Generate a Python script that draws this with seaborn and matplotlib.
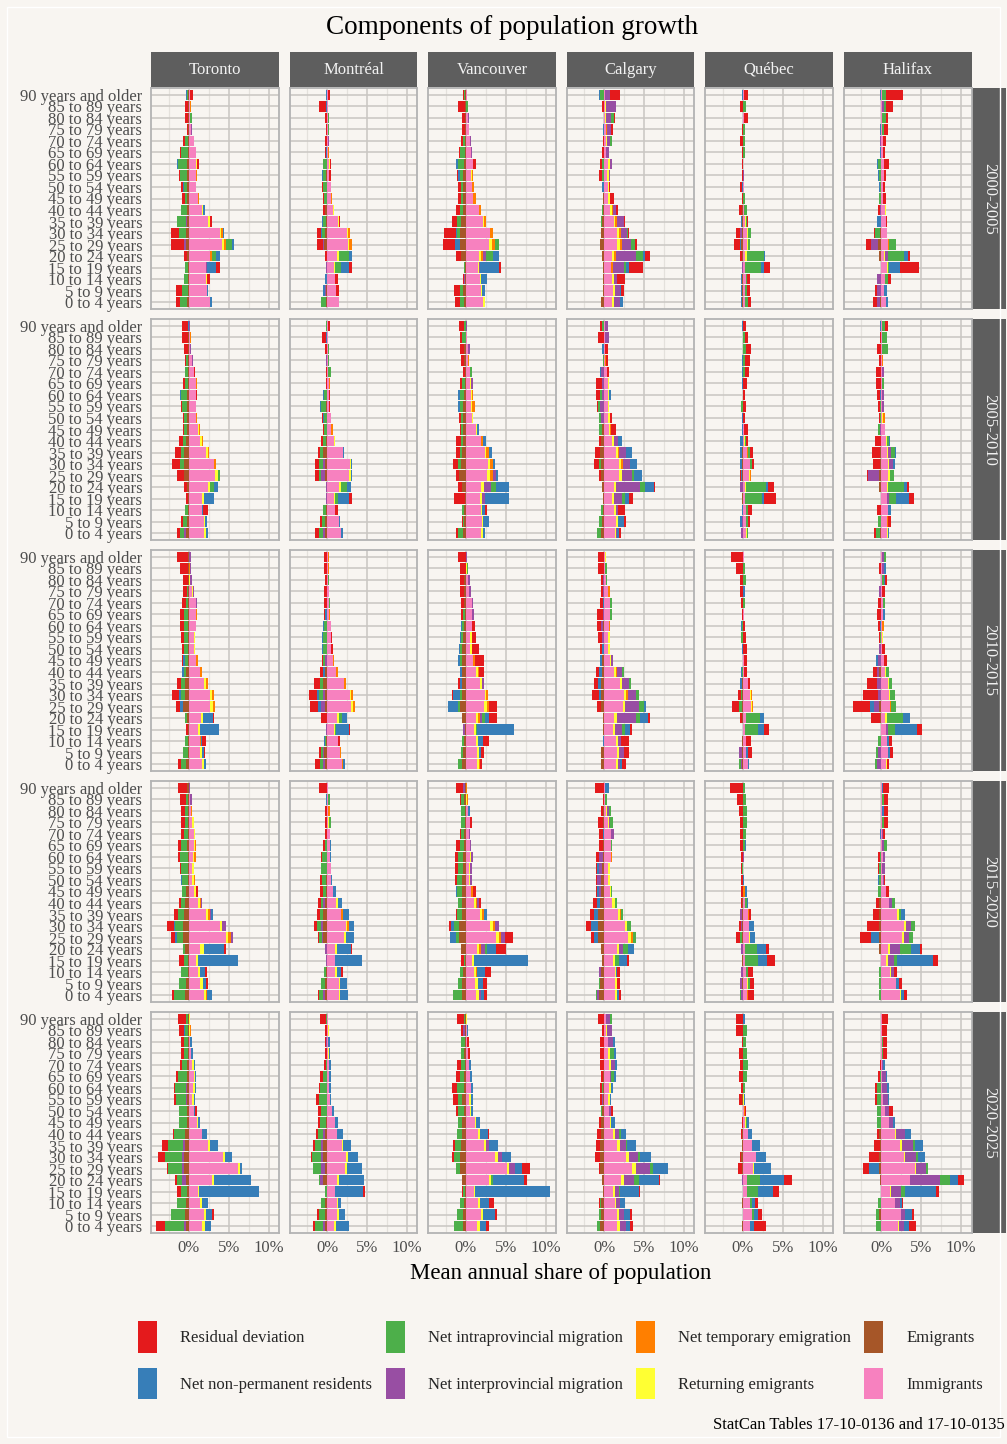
import numpy as np
import pandas as pd
import matplotlib
matplotlib.use("Agg")
import matplotlib.pyplot as plt
from matplotlib.patches import Rectangle, Patch
import seaborn as sns

# ---------------------------------------------------------------- data
AGES = ["90 years and older", "85 to 89 years", "80 to 84 years", "75 to 79 years",
        "70 to 74 years", "65 to 69 years", "60 to 64 years", "55 to 59 years",
        "50 to 54 years", "45 to 49 years", "40 to 44 years", "35 to 39 years",
        "30 to 34 years", "25 to 29 years", "20 to 24 years", "15 to 19 years",
        "10 to 14 years", "5 to 9 years", "0 to 4 years"]
CITIES = ["Toronto", "Montréal", "Vancouver", "Calgary", "Québec", "Halifax"]
PERIODS = ["2000-2005", "2005-2010", "2010-2015", "2015-2020", "2020-2025"]
COMPONENTS = ["Residual deviation", "Net non-permanent residents",
              "Net intraprovincial migration", "Net interprovincial migration",
              "Net temporary emigration", "Returning emigrants", "Emigrants", "Immigrants"]
COLORS = ["#e41a1c", "#377eb8", "#4daf4a", "#984ea3", "#ff7f00", "#ffff33", "#a65628", "#f781bf"]
XTICKS = [0, 5, 10]
XTICK_LABELS = ["0%", "5%", "10%"]

# each row: (residual, npr, intraprov, interprov, temp emig, returning, emigrants, immigrants), in % ; ages top->bottom
TORONTO_2000 = [
    (0.4, -0.1, -0.2, 0, 0, 0, -0.05, 0.15), (-0.4, 0, 0, 0, 0.1, 0.1, -0.1, 0.1),
    (-0.35, 0, 0.2, 0, 0, 0.05, -0.1, 0.15), (-0.15, 0, 0, 0.1, 0, 0, -0.1, 0.25),
    (-0.25, 0, -0.4, 0, 0, 0, -0.05, 0.6), (-0.15, 0, -0.9, 0, 0.05, 0, -0.1, 0.85),
    (0.25, -0.15, -1.2, 0, 0, 0.1, -0.2, 0.95), (-0.1, 0, -0.9, 0, 0.1, 0.1, -0.2, 0.85),
    (-0.35, -0.05, -0.45, 0, 0, 0, -0.2, 0.85), (-0.3, 0, -0.3, 0, 0.1, 0, -0.2, 1.2),
    (-0.1, 0.2, -0.7, 0, 0, 0.1, -0.25, 1.7), (0.25, 0, -1.15, -0.1, 0, 0.25, -0.2, 2.45),
    (-0.9, 0.1, -1.0, 0, 0.25, 0.1, -0.3, 3.9), (-1.65, 0.15, 0.8, -0.15, 0.2, 0.25, -0.4, 4.2),
    (-0.4, 0.5, 0.5, 0, 0.25, 0.1, -0.2, 2.6), (0.4, 1.2, -0.35, 0.1, 0, 0, -0.1, 2.15),
    (0.35, 0, -0.5, 0, 0, 0.1, -0.1, 2.2), (-0.75, 0.15, -0.75, 0, 0, 0.05, -0.1, 2.25),
    (-0.5, 0.25, -0.9, 0, 0, 0.1, -0.2, 2.6)]
MONTREAL_2000 = [
    (0.25, -0.1, 0, 0, 0, 0, -0.02, 0.02), (-0.85, -0.1, 0, 0, 0.1, 0, -0.05, 0.02),
    (-0.3, 0, 0.2, 0, 0, 0, -0.05, 0.05), (-0.15, 0, 0.15, 0, 0, 0, -0.05, 0.05),
    (-0.2, 0, 0, 0.2, 0, 0, -0.05, 0.05), (-0.15, -0.15, 0, 0, 0.15, 0, -0.05, 0.1),
    (0.15, -0.1, -0.45, 0, 0, 0.1, -0.05, 0.2), (0.15, -0.1, -0.45, 0, 0, 0.05, -0.15, 0.2),
    (-0.1, 0, -0.45, 0, 0, 0, -0.1, 0.4), (-0.1, 0, -0.35, 0, 0.1, 0, -0.1, 0.5),
    (-0.15, 0, 0, 0, 0, 0.15, -0.35, 0.7), (0.15, -0.1, -0.4, 0, 0, 0.1, -0.2, 1.3),
    (-0.5, -0.1, -0.35, 0, 0.25, 0.1, -0.35, 2.5), (-0.75, 0, 0, -0.15, 0.3, 0.2, -0.45, 2.55),
    (-0.15, 0.4, 1.2, 0, 0, 0.25, -0.1, 1.2), (0.5, 0.9, 0.75, -0.1, 0, 0.2, -0.05, 0.8),
    (0.3, -0.2, 0, 0, 0, 0, -0.1, 1.0), (0.3, -0.25, 0, -0.1, 0, 0, -0.15, 1.1),
    (0, 0, -0.6, 0, 0.1, 0, -0.15, 1.4)]
VANCOUVER_2000 = [
    (-0.2, 0, -0.15, 0.05, 0, 0, -0.05, 0.15), (-0.9, 0, 0.25, 0, 0, 0, -0.05, 0.02),
    (-0.4, 0, 0, 0.1, 0, 0, -0.05, 0.25), (-0.4, 0, 0.1, 0, 0, 0, -0.05, 0.35),
    (-0.25, 0, -0.25, 0.15, 0, 0, -0.05, 0.5), (-0.15, 0, -0.7, 0.1, 0.1, 0, -0.05, 0.6),
    (0.3, -0.15, -0.8, 0, 0, 0, -0.25, 0.95), (-0.2, -0.15, -0.4, 0, 0.15, 0.1, -0.4, 0.7),
    (-0.4, 0, -0.25, 0, 0.2, 0.05, -0.4, 0.75), (-0.35, 0, -0.3, 0, 0.3, 0, -0.3, 0.95),
    (-0.45, 0, -0.4, 0, 0.25, 0.1, -0.4, 1.6), (-0.6, 0, -0.55, 0, 0.3, 0.05, -0.6, 2.2),
    (-1.4, -0.2, -0.4, 0, 0.35, 0.05, -0.7, 3.0), (-1.5, -0.55, 0.5, 0, 0.35, 0.3, -0.8, 2.95),
    (-0.6, 0.75, 0.9, 0.3, 0.25, 0.25, -0.6, 1.7), (0.25, 2.3, -0.15, 0.1, 0, 0.15, -0.1, 1.55),
    (-0.15, 0.75, 0, -0.15, 0, 0.15, -0.1, 1.8), (-0.75, 0.45, -0.4, 0, 0, 0.15, -0.3, 1.85),
    (-0.6, 0, -0.5, 0, 0, 0.15, -0.25, 2.2)]
CALGARY_2000 = [
    (1.25, -0.1, -0.55, 0.6, 0, 0, -0.02, 0.1), (-0.2, 0, 0, 1.15, 0.1, 0.1, -0.05, 0.05),
    (0.2, 0, 0.3, 0.65, 0, 0.15, -0.05, 0.05), (0.25, -0.1, 0, 0.5, 0.1, 0, -0.05, 0.2),
    (-0.1, 0, 0.25, 0.4, 0, 0.15, -0.05, 0.15), (-0.3, 0, 0, 0.35, 0, 0, -0.05, 0.2),
    (-0.15, 0, -0.3, 0.3, 0, 0.25, -0.05, 0.4), (-0.3, 0, -0.3, 0.1, 0, 0.25, -0.05, 0.35),
    (0.15, -0.15, 0, 0, 0, 0.2, -0.1, 0.4), (0.55, 0, 0, 0, 0, 0.15, -0.15, 0.5),
    (0.25, 0, -0.15, 0.4, 0.15, 0.2, -0.2, 0.7), (0.2, 0, -0.15, 0.8, 0.25, 0.15, -0.3, 1.2),
    (0.1, 0, 0.2, 0.7, 0.25, 0.25, -0.4, 1.6), (0.2, 0, 0.55, 1.15, 0.25, 0.35, -0.55, 1.6),
    (0.6, 0.25, 0.9, 2.6, 0.15, 0.25, -0.3, 1.0), (1.75, 0.45, 0.15, 1.45, 0.2, 0, -0.15, 0.85),
    (0.95, 0, 0, 0.45, 0, 0.2, -0.15, 0.95), (0.35, 0.15, 0, 0.65, 0, 0.2, -0.15, 1.1),
    (0, 0.4, 0, 0.7, 0, 0.2, -0.4, 1.0)]
QUEBEC_2000 = [
    (0.5, -0.15, 0, 0, 0, 0, -0.02, 0.1), (-0.35, 0, 0.35, 0, 0, 0, -0.02, 0.02),
    (0.4, 0, 0.1, 0, 0, 0, -0.02, 0.1), (-0.15, 0, 0.25, 0, 0, 0, -0.02, 0.02),
    (-0.35, 0, 0.2, 0, 0, 0, -0.02, 0.02), (-0.1, 0, 0.2, 0, 0, 0, -0.02, 0.02),
    (-0.1, 0, 0, 0, 0, 0, -0.02, 0.05), (-0.1, 0, 0, 0.1, 0, 0, -0.02, 0.03),
    (-0.25, -0.1, 0, 0, 0, 0, -0.02, 0.1), (-0.1, 0, 0.2, 0, 0, 0, -0.02, 0.05),
    (-0.35, 0, 0.35, 0, 0.1, 0, -0.1, 0.1), (0.2, -0.2, 0.15, 0, 0, 0.1, -0.05, 0.25),
    (-0.5, 0, 0.3, -0.25, 0, 0.15, -0.15, 0.55), (-0.75, -0.15, 0.25, 0, 0, 0.15, -0.25, 0.55),
    (-0.3, 0.1, 2.15, 0, 0, 0.25, -0.05, 0.25), (0.8, 0.35, 2.0, -0.15, 0, 0, -0.02, 0.25),
    (0.4, -0.15, 0.1, 0, 0.1, 0, -0.05, 0.35), (0.35, -0.15, 0.25, 0, 0, 0, -0.1, 0.25),
    (0.4, -0.2, 0.3, 0, 0, 0, -0.05, 0.3)]
HALIFAX_2000 = [
    (2.1, -0.1, 0.55, 0, 0, 0, -0.02, 0.05), (0.85, 0, 0.25, 0.3, 0, 0, -0.05, 0.05),
    (0.25, 0, 0.55, 0, 0, 0, -0.05, 0.02), (0.6, -0.1, 0.25, 0, 0, 0, -0.02, 0.02),
    (0.4, 0, 0, -0.15, 0, 0, -0.02, 0.2), (0.35, -0.1, 0, 0, 0, 0, -0.02, 0.15),
    (0.6, -0.15, -0.4, 0, 0, 0, -0.05, 0.3), (0.25, -0.1, -0.3, 0, 0, 0, -0.05, 0.3),
    (0.2, -0.1, -0.15, 0, 0, 0, -0.05, 0.2), (0.35, 0, -0.25, 0, 0, 0, -0.05, 0.2),
    (-0.25, 0, 0, -0.15, 0, 0.1, -0.05, 0.45), (0.1, -0.4, 0, 0, 0, 0, -0.1, 0.6),
    (-0.15, 0, -0.6, 0, 0, 0.1, -0.2, 0.65), (-0.65, 0, 0.9, -0.85, 0.15, 0, -0.4, 0.8),
    (0.25, 0.5, 2.0, 0.35, 0, 0.2, -0.3, 0.3), (2.4, 1.4, 0.15, 0, 0, 0.1, -0.05, 0.7),
    (0.35, 0, 0.35, -0.5, 0, 0, -0.05, 0.45), (-0.25, 0.3, 0, -0.5, 0, 0, -0.05, 0.35),
    (-0.5, 0.2, 0, -0.3, 0, 0, -0.2, 0.6)]

TORONTO_2005 = [
    (-0.65, -0.15, 0, 0.15, 0, 0, -0.02, 0.02), (-0.75, 0, 0.05, 0, 0.15, 0, -0.15, 0.1),
    (-0.5, 0, 0, 0.1, 0, 0, -0.15, 0.15), (-0.1, 0, -0.3, 0.15, 0, 0, -0.05, 0.4),
    (0.15, 0, -0.4, 0, 0, 0, -0.05, 0.65), (-0.25, 0, -0.45, 0, 0.15, 0, -0.05, 0.9),
    (0.1, -0.15, -0.75, 0, 0, 0, -0.2, 0.95), (-0.1, 0, -0.65, 0, 0, 0, -0.2, 0.9),
    (-0.1, 0, -0.4, 0, 0.15, 0, -0.2, 0.9), (-0.1, 0, -0.4, 0, 0.1, 0.1, -0.2, 1.15),
    (-0.5, 0, -0.4, 0, 0.15, 0.15, -0.3, 1.45), (-0.65, 0, -0.4, -0.1, 0.1, 0.25, -0.55, 2.2),
    (-1.0, 0, -0.5, -0.1, 0.25, 0.1, -0.55, 3.1), (-0.9, 0, 0.35, -0.05, 0, 0.35, -0.6, 3.25),
    (-0.4, 0.6, 0.4, 0, 0, 0.35, -0.2, 2.35), (-0.15, 1.25, 0, 0, 0, 0.25, -0.15, 1.7),
    (0.6, 0.1, -0.4, 0, 0, 0, -0.05, 1.7), (-0.25, 0.25, -0.5, 0, 0, 0.1, -0.25, 1.95),
    (-0.4, 0.25, -0.6, -0.25, 0, 0.25, -0.3, 1.95)]
MONTREAL_2005 = [
    (0.25, -0.1, -0.1, 0, 0, 0, -0.02, 0.02), (-0.5, -0.15, 0, 0, 0.1, 0, -0.02, 0.02),
    (-0.3, 0, 0.1, 0, 0, 0, -0.02, 0.05), (0.1, 0, 0.05, -0.1, 0, 0, -0.02, 0.1),
    (-0.15, 0, 0.3, 0, 0, 0, -0.02, 0.1), (-0.15, 0, 0, 0, 0.15, 0, -0.02, 0.15),
    (0.1, -0.1, -0.45, 0, 0, 0.1, -0.02, 0.15), (0.05, -0.15, -0.6, 0, 0, 0, -0.15, 0.25),
    (-0.1, -0.15, -0.35, 0, 0, 0, -0.05, 0.4), (-0.1, 0, -0.35, 0, 0.15, 0, -0.1, 0.5),
    (-0.35, 0.1, -0.3, 0, 0, 0.1, -0.2, 0.8), (-0.25, 0.1, -0.4, 0, 0, 0.1, -0.5, 1.9),
    (-0.5, 0.25, -0.5, -0.25, 0, 0.1, -0.35, 2.8), (-0.5, 0.25, -0.25, -0.6, 0, 0.25, -0.25, 2.65),
    (0.1, 0.5, 0.75, -0.1, 0, 0.25, -0.1, 1.4), (0.4, 1.4, 0.4, -0.1, 0, 0.1, -0.05, 0.8),
    (0.3, 0, -0.3, 0, 0, 0, -0.2, 1.0), (-0.25, 0.1, -0.45, 0, 0.1, 0, -0.25, 1.4),
    (-0.5, 0.25, -0.5, -0.25, 0.1, 0, -0.25, 1.65)]
VANCOUVER_2005 = [
    (-0.65, 0, -0.25, 0.1, 0, 0, -0.02, 0.02), (-0.25, 0, -0.45, 0, 0, 0.1, -0.02, 0.1),
    (-0.5, 0, 0, 0.3, 0, 0, -0.2, 0.25), (-0.4, 0, 0, 0, 0.2, 0, -0.2, 0.25),
    (-0.25, -0.1, 0.3, 0, 0, 0, -0.05, 0.5), (-0.25, 0, -0.45, 0.3, 0, 0.1, -0.05, 0.55),
    (0, -0.15, -0.6, 0, 0.2, 0.15, -0.2, 0.6), (-0.1, -0.15, -0.45, 0, 0.3, 0.15, -0.35, 0.65),
    (-0.25, 0, -0.25, 0, 0, 0.2, -0.35, 0.75), (-0.1, 0.2, -0.25, 0, 0, 0.1, -0.35, 1.3),
    (-0.6, 0.3, -0.25, 0, 0.25, 0, -0.35, 1.95), (-0.6, 0.45, -0.25, 0, 0.3, 0.1, -0.45, 2.45),
    (-0.65, 0.25, -0.4, 0, 0.35, 0.25, -0.6, 2.8), (-0.3, 0.25, -0.05, 0.4, 0.35, 0.35, -0.85, 2.7),
    (-0.6, 1.65, 0.6, 0.85, 0, 0.4, -0.45, 1.9), (-1.4, 3.0, 0, 0.35, 0, 0.25, -0.1, 1.8),
    (0.25, 0.4, -0.25, 0, 0, 0.1, -0.2, 1.9), (-0.1, 0.75, -0.2, 0, 0, 0.2, -0.2, 2.0),
    (-0.25, 0.2, -0.6, 0, 0, 0.3, -0.35, 1.9)]
CALGARY_2005 = [
    (-0.25, 0, -0.3, 0.45, 0, 0, -0.02, 0.02), (-0.8, 0, 0, 0.5, 0, 0.1, -0.02, 0.02),
    (0.35, -0.25, 0, -0.05, 0, 0, -0.02, 0.1), (0.25, 0, -0.15, 0, 0.1, 0, -0.02, 0.1),
    (0.3, -0.1, 0, -0.4, 0, 0, -0.02, 0.3), (-0.75, 0, 0, -0.3, 0, 0.1, -0.05, 0.5),
    (-0.5, 0.25, -0.25, -0.25, 0, 0.15, -0.05, 0.4), (-0.15, 0, -0.25, -0.5, 0, 0.2, -0.05, 0.4),
    (0.3, 0, -0.25, -0.4, 0, 0.2, -0.05, 0.45), (0.6, 0, -0.35, 0, 0.1, 0.1, -0.3, 0.6),
    (-0.25, 0.5, 0, 0.5, 0, 0.25, -0.4, 1.0), (-0.65, 0.75, 0, 0.9, 0.15, 0.2, -0.55, 1.45),
    (-0.65, 0.9, -0.25, 0.9, 0.25, 0.25, -0.4, 1.85), (-0.25, 1.0, 0.25, 1.25, 0.1, 0.3, -0.4, 1.85),
    (0.1, 1.15, 0.65, 3.0, 0, 0.25, -0.3, 1.2), (0.5, 0.5, 0.4, 1.0, 0, 0.25, -0.15, 0.95),
    (0.9, 0, -0.25, 0.25, 0, 0.25, -0.15, 1.2), (0.25, 0.75, -0.4, 0, 0, 0.25, -0.3, 1.45),
    (0.25, 0.25, -0.5, 0.1, 0, 0.15, -0.4, 1.35)]
QUEBEC_2005 = [
    (0.4, -0.15, 0, 0, 0, 0, -0.02, 0.02), (0.4, 0, 0.25, 0, 0, 0, -0.02, 0.02),
    (0.6, 0, 0.35, 0, 0, 0, -0.02, 0.02), (0.6, -0.1, 0.25, 0, 0, 0, -0.02, 0.02),
    (0.5, -0.1, 0.25, 0, 0, 0, -0.02, 0.02), (0.45, -0.1, 0, 0, 0, 0, -0.02, 0.05),
    (0.2, 0, 0, 0, 0, 0, -0.02, 0.03), (0.35, 0, -0.2, 0, 0, 0, -0.02, 0.02),
    (0.2, -0.1, 0, 0, 0, 0, -0.02, 0.03), (0.5, -0.1, 0, 0, 0, 0, -0.02, 0.1),
    (0.25, -0.3, 0.1, 0, 0, 0.1, -0.02, 0.15), (0.4, -0.3, 0.25, 0, 0.1, 0, -0.05, 0.5),
    (0.35, -0.3, 0.25, 0, 0, 0, -0.05, 0.85), (-0.15, -0.15, 0, 0, 0.1, 0.15, -0.1, 0.8),
    (0.75, 0.25, 2.5, -0.4, 0, 0.2, -0.02, 0.25), (1.5, 0.25, 2.1, 0, 0, 0, -0.1, 0.25),
    (0.5, -0.15, 0.25, 0, 0, 0, -0.02, 0.35), (0.25, -0.25, 0.2, -0.1, 0, 0, -0.02, 0.4),
    (0.1, 0, 0.1, -0.25, 0, 0.1, -0.02, 0.4)]
HALIFAX_2005 = [
    (0.35, -0.1, 0.4, 0, 0, 0, -0.02, 0.1), (-0.1, 0, 0.65, 0, 0, 0, -0.02, 0.02),
    (-0.55, 0, 0.8, 0, 0, 0, -0.02, 0.02), (-0.3, 0, 0, 0, 0.1, 0, -0.02, 0.1),
    (-0.7, 0, 0, 0.3, 0, 0, -0.02, 0.02), (-0.65, 0, 0.35, 0, 0, 0, -0.02, 0.02),
    (-0.4, -0.15, 0, 0.25, 0, 0, -0.02, 0.05), (-0.3, 0, -0.15, 0.3, 0, 0, -0.02, 0.05),
    (-0.2, 0, -0.1, 0, 0.2, 0.1, -0.02, 0.1), (0.1, 0, -0.35, -0.1, 0, 0, -0.02, 0.4),
    (-0.65, 0.15, 0.25, 0, 0, 0.1, -0.1, 0.55), (-1.0, 0.1, 0.5, 0.4, 0, 0.15, -0.2, 0.7),
    (-0.9, 0.25, 0, 0.5, 0, 0.1, -0.2, 0.85), (-0.1, 0, 0.5, -1.4, 0, 0.2, -0.3, 0.85),
    (0.25, 0.4, 2.0, 0, 0, 0.1, -0.3, 0.7), (0.6, 1.65, 0.9, 0.25, 0, 0, -0.1, 0.7),
    (-0.4, 0.35, 0, 0, 0, 0, -0.1, 0.8), (0.35, 0, -0.3, 0, 0.1, 0, -0.1, 0.7),
    (-0.25, 0.15, -0.5, 0, 0, 0.1, -0.15, 0.7)]

TORONTO_2010 = [
    (-1.4, 0, 0, 0.2, 0, 0, -0.05, 0.02), (-1.0, 0, 0, 0.15, 0.15, 0, -0.15, 0.02),
    (-0.6, 0, 0, 0.25, 0, 0.1, -0.15, 0.05), (-0.5, 0, -0.2, 0.15, 0, 0.1, -0.05, 0.45),
    (-0.5, 0, -0.3, 0.1, 0, 0, -0.05, 0.95), (-0.5, 0, -0.5, 0, 0.15, 0, -0.15, 0.9),
    (-0.5, 0, -0.55, 0, 0, 0, -0.1, 0.9), (-0.4, 0, -0.5, 0, 0, 0.2, -0.1, 0.6),
    (-0.25, 0, -0.5, 0, 0, 0.15, -0.1, 0.6), (-0.1, -0.25, -0.35, 0, 0.15, 0, -0.1, 0.95),
    (-0.1, -0.25, -0.25, 0, 0.35, 0, -0.3, 1.35), (-0.5, 0, -0.5, 0, 0.25, 0.25, -0.45, 1.95),
    (-0.9, -0.25, -0.5, 0, 0.25, 0.25, -0.45, 2.7), (-0.5, -0.4, 0, 0, 0.25, 0.35, -0.7, 2.7),
    (0.1, 1.25, -0.2, 0, 0, 0.25, -0.25, 1.55), (-0.2, 2.4, 0, 0, 0, 0.25, -0.1, 1.1),
    (0.5, 0.1, -0.45, 0, 0.1, 0.1, -0.05, 1.35), (0.15, 0.2, -0.7, 0, 0, 0.25, -0.05, 1.45),
    (-0.35, 0.25, -0.75, 0, 0, 0.25, -0.3, 1.6)]
MONTREAL_2010 = [
    (-0.45, 0, 0, 0, 0.15, 0, -0.02, 0.02), (-0.4, 0, 0, 0, 0.1, 0, -0.02, 0.05),
    (-0.3, 0, 0.2, 0, 0, 0, -0.02, 0.02), (-0.4, 0, 0, 0, 0, 0, -0.02, 0.2),
    (-0.4, 0, 0.1, 0, 0, 0.1, -0.02, 0.15), (-0.15, -0.25, 0, 0, 0.15, 0, -0.02, 0.2),
    (0, -0.1, -0.4, 0, 0, 0, -0.05, 0.4), (0.15, -0.1, -0.5, 0, 0, 0, -0.05, 0.4),
    (0.25, -0.1, -0.5, 0, 0, 0, -0.05, 0.4), (-0.1, 0, -0.3, -0.25, 0.15, 0, -0.05, 0.65),
    (-0.4, -0.15, 0, 0, 0.25, 0, -0.35, 1.05), (-0.75, 0, -0.4, 0, 0.25, 0, -0.5, 2.05),
    (-0.9, -0.25, -0.5, -0.25, 0.25, 0.15, -0.35, 2.8), (-1.0, -0.35, 0, -0.6, 0.25, 0.25, -0.25, 2.95),
    (-0.65, 0.6, 0.4, 0, 0, 0.25, -0.1, 1.15), (0.1, 1.65, 0.15, -0.1, 0, 0.1, -0.02, 0.8),
    (0.25, -0.15, -0.1, 0, 0, 0, -0.2, 1.3), (-0.25, 0, -0.25, -0.1, 0.2, 0, -0.4, 1.55),
    (-0.6, 0.25, -0.4, -0.25, 0.1, 0, -0.25, 1.8)]
VANCOUVER_2010 = [
    (-0.95, 0, 0, 0.15, 0, 0, -0.02, 0.02), (-0.75, 0, 0.2, 0, 0, 0.1, -0.02, 0.02),
    (-0.5, 0, 0, 0.25, 0, 0, -0.2, 0.3), (-0.5, 0, 0, 0.25, 0, 0, -0.2, 0.4),
    (-0.4, 0, 0, 0.15, 0, 0, -0.2, 0.8), (-0.35, 0, -0.25, 0.25, 0, 0, -0.05, 0.8),
    (0.35, -0.1, -0.25, 0, 0, 0, -0.2, 0.8), (0.5, -0.1, -0.25, 0, 0, 0.25, -0.35, 0.55),
    (0.9, -0.15, -0.25, 0, 0, 0.2, -0.45, 0.55), (1.15, -0.25, -0.35, 0, 0.2, 0, -0.45, 0.95),
    (0.55, -0.25, 0, 0, 0.2, 0.2, -0.45, 1.3), (-0.25, -0.35, 0, 0.25, 0, 0.25, -0.45, 1.8),
    (-0.1, -0.9, -0.25, 0, 0.25, 0.1, -0.45, 2.4), (0.9, -1.25, -0.25, 0, 0.25, 0.4, -0.7, 2.3),
    (0.9, 0.5, 0.4, 0.25, 0.25, 0.25, -0.45, 1.3), (0, 4.65, 0.1, -0.3, 0, 0.25, -0.1, 1.05),
    (0.75, 0.6, -0.25, 0, 0, 0.25, -0.2, 1.3), (0.35, 0.25, -0.25, 0, 0, 0.25, -0.35, 1.4),
    (0.25, 0, -0.5, 0, 0.1, 0.25, -0.45, 1.4)]
CALGARY_2010 = [
    (-0.65, 0, 0, 0, 0, 0.1, -0.1, 0.05), (-0.8, 0, 0.25, 0, 0, 0, -0.02, 0.1),
    (-0.3, 0, 0.15, -0.15, 0, 0, -0.02, 0.15), (-0.25, 0, 0, -0.15, 0.25, 0, -0.02, 0.4),
    (-0.4, -0.15, 0.25, 0, 0, 0, -0.02, 0.7), (-0.75, 0, 0.2, -0.15, 0, 0, -0.02, 0.7),
    (-0.5, 0, 0, -0.25, 0.15, 0, -0.15, 0.6), (-0.5, 0, 0, -0.3, 0, 0.2, -0.05, 0.5),
    (-0.25, -0.25, 0, 0, 0, 0.15, -0.05, 0.5), (0, -0.25, 0, 0.25, 0, 0.1, -0.3, 0.7),
    (-0.4, -0.4, 0.25, 0.65, 0.1, 0.25, -0.3, 1.2), (-0.5, -0.4, 0.25, 0.9, 0, 0.2, -0.4, 2.0),
    (-0.85, -0.25, 0.35, 1.0, 0.25, 0.25, -0.4, 2.5), (-0.5, 0.25, 0.6, 1.8, 0, 0.25, -0.4, 2.35),
    (0.25, 1.0, 0.5, 2.4, 0, 0.4, -0.15, 1.2), (0.25, 0.65, 0.35, 0.9, 0, 0.25, -0.15, 1.1),
    (1.0, -0.15, 0, 0.35, 0, 0.25, -0.05, 1.45), (0.6, 0, 0, 0.6, 0, 0.25, -0.4, 1.6),
    (0.5, 0.2, 0, 0.3, 0, 0.25, -0.4, 1.45)]
QUEBEC_2010 = [
    (-1.5, 0, 0, 0, 0, 0, -0.02, 0.1), (-0.9, 0, 0.25, 0, 0, 0, -0.02, 0.02),
    (-0.4, 0, 0.35, 0, 0, 0, -0.02, 0.02), (-0.4, 0.2, 0, 0, 0, 0, -0.02, 0.02),
    (-0.25, 0, 0.25, 0, 0, 0, -0.02, 0.02), (-0.15, 0, 0, 0, 0, 0, -0.02, 0.1),
    (0.25, -0.1, -0.15, 0, 0, 0, -0.02, 0.02), (0.35, 0, -0.2, 0, 0, 0, -0.02, 0.02),
    (0.45, -0.1, 0, 0, 0, 0, -0.02, 0.02), (0.4, 0, 0, 0, 0, 0, -0.02, 0.1),
    (0.35, -0.15, -0.1, 0, 0, 0, -0.02, 0.15), (0.25, -0.35, 0, 0, 0.1, 0, -0.05, 0.6),
    (-0.4, 0, -0.1, 0, 0.15, 0.15, -0.15, 0.85), (-0.85, 0, -0.4, 0, 0.15, 0.1, -0.1, 1.0),
    (-0.25, 0.5, 1.75, 0, 0, 0, -0.1, 0.35), (0.65, 0.75, 1.6, 0, 0, 0, -0.02, 0.25),
    (0.6, 0, 0, -0.1, 0.1, 0, -0.05, 0.35), (0.5, 0.15, 0, -0.4, 0, 0, -0.05, 0.45),
    (0, 0.2, -0.15, -0.25, 0, 0, -0.05, 0.6)]
HALIFAX_2010 = [
    (-0.05, 0, 0.25, 0.25, 0, 0, -0.02, 0.1), (-0.3, 0.25, 0, 0.35, 0, 0, -0.02, 0.02),
    (0.15, 0.2, 0.25, 0, 0, 0, -0.02, 0.05), (0.35, 0, 0, -0.25, 0, 0, -0.02, 0.1),
    (-0.4, 0, 0.35, 0, 0, 0, -0.02, 0.15), (-0.5, 0.3, 0, 0, 0, 0, -0.02, 0.15),
    (-0.3, -0.1, 0, 0, 0.2, 0, -0.02, 0.1), (-0.2, 0, -0.1, 0, 0, 0.1, -0.02, 0.1),
    (0.35, 0, 0, -0.3, 0, 0, -0.02, 0.1), (0.35, -0.25, 0, -0.4, 0, 0, -0.02, 0.3),
    (-0.5, 0, 0.35, -0.25, 0, 0.15, -0.3, 0.45), (-1.25, 0, 0.45, -0.4, 0, 0.1, -0.1, 0.8),
    (-1.9, 0, 0.6, -0.3, 0, 0.1, -0.1, 0.95), (-2.15, -0.5, 0.6, -0.6, 0.15, 0, -0.3, 1.05),
    (-1.1, 0.9, 2.0, 0, 0, 0.25, -0.2, 0.45), (0.6, 2.8, 0.85, 0.25, 0, 0, -0.1, 0.55),
    (0.35, 0.25, -0.4, 0, 0, 0, -0.05, 0.7), (0.35, 0.25, -0.25, -0.35, 0, 0, -0.05, 0.8),
    (0.25, 0, -0.25, -0.5, 0, 0.1, -0.05, 0.55)]

TORONTO_2015 = [
    (-1.15, 0, 0, 0.1, 0, 0, -0.2, 0.02), (-0.75, 0, -0.3, 0.15, 0, 0.1, -0.05, 0.1),
    (-0.5, 0, -0.4, 0, 0.15, 0, -0.05, 0.25), (-0.5, 0, -0.4, 0, 0, 0.2, -0.05, 0.45),
    (-0.4, 0, -0.45, 0, 0, 0.15, -0.1, 0.65), (-0.35, 0, -0.85, 0, 0.15, 0.15, -0.2, 0.65),
    (-0.25, 0, -1.0, 0, 0.15, 0.15, -0.15, 0.55), (-0.1, 0, -0.9, 0, 0, 0.2, -0.1, 0.45),
    (0, -0.1, -0.75, 0, 0.15, 0.15, -0.15, 0.45), (0.35, -0.1, -0.5, 0, 0, 0.15, -0.3, 0.7),
    (-0.25, 0, -0.6, 0.15, 0.2, 0.25, -0.45, 1.1), (-0.5, 0.25, -0.85, 0.15, 0.2, 0.35, -0.55, 2.1),
    (-0.9, -0.15, -1.0, 0.45, 0, 0.35, -0.7, 3.85), (-0.5, -0.25, -0.85, 0.25, 0.35, 0.35, -0.7, 4.6),
    (0.25, 2.4, -0.25, 0, 0, 0.5, -0.45, 1.45), (-0.6, 5.0, -0.5, 0, 0, 0.25, -0.1, 0.95),
    (0.25, 0.6, -0.8, 0, 0, 0.25, -0.15, 1.2), (0.3, 0.35, -1.0, 0, 0, 0.35, -0.3, 1.45),
    (-0.25, 0.6, -1.4, 0, 0.1, 0.25, -0.45, 1.95)]
MONTREAL_2015 = [
    (-1.0, 0, 0, 0, 0.1, 0, -0.1, 0.02), (0, -0.15, 0.2, 0, 0, 0.1, -0.05, 0.02),
    (-0.3, 0, 0, 0, 0.25, 0, -0.02, 0.1), (-0.3, 0, 0.25, 0, 0, 0.15, -0.05, 0.1),
    (-0.3, 0, 0, 0, 0, 0, -0.02, 0.3), (-0.25, 0.1, -0.25, 0, 0, 0, -0.02, 0.35),
    (-0.1, 0.1, -0.65, 0, 0, 0, -0.02, 0.35), (0.05, 0, -0.8, 0, 0, 0, -0.02, 0.4),
    (-0.25, 0.2, -0.5, 0, 0, 0, -0.2, 0.4), (-0.35, 0.35, -0.4, 0, 0, 0, -0.2, 0.75),
    (-0.4, 0.5, -0.15, -0.25, 0, 0.25, -0.35, 1.05), (-0.4, 0.65, -0.4, 0, 0.35, 0, -0.5, 1.65),
    (-0.4, 0.65, -0.5, -0.25, 0.15, 0.2, -0.5, 2.3), (-0.15, 1.0, -0.4, -0.1, 0, 0.25, -0.55, 2.1),
    (0.1, 1.75, 0, -0.15, 0.1, 0.25, -0.1, 0.9), (0.1, 3.3, 0.1, -0.1, 0, 0, -0.02, 0.9),
    (0.25, 0.5, -0.25, 0, 0, 0.25, -0.15, 1.0), (-0.1, 0.9, -0.4, 0, 0, 0.15, -0.35, 1.4),
    (-0.1, 1.0, -0.5, -0.25, 0, 0.15, -0.3, 1.4)]
VANCOUVER_2015 = [
    (-0.9, 0, 0, -0.25, 0.15, 0, -0.05, 0.02), (-0.25, 0, -0.35, 0, 0.1, 0.15, -0.2, 0.02),
    (0, 0.25, -0.5, 0, 0, 0, -0.1, 0.25), (0.25, -0.1, -0.5, 0, 0, 0, -0.05, 0.5),
    (-0.25, 0, -0.35, 0.15, 0, 0, -0.2, 0.4), (-0.5, 0, -0.5, 0.2, 0, 0, -0.2, 0.5),
    (-0.4, 0, -0.65, 0.2, 0, 0.15, -0.35, 0.5), (-0.4, 0, -0.6, 0.25, 0, 0.15, -0.35, 0.4),
    (-0.25, 0, -0.65, 0.25, 0, 0.15, -0.45, 0.4), (0.35, -0.1, -0.65, 0, 0.25, 0, -0.45, 0.65),
    (0.25, 0, -0.5, 0.25, 0.15, 0.25, -0.45, 1.05), (-0.1, 0.35, -0.65, 0.05, 0.2, 0.25, -0.45, 1.8),
    (-0.25, -0.4, -0.6, 0.5, 0.2, 0.35, -0.85, 3.05), (0.9, -0.75, -0.4, 0.5, 0.25, 0.4, -0.85, 3.8),
    (1.25, 1.1, 0.25, 0.5, 0.25, 0.25, -0.6, 1.4), (-0.35, 6.8, -0.15, 0, 0, 0.25, -0.1, 0.8),
    (0.75, 1.0, -0.4, 0, 0.1, 0.25, -0.35, 1.05), (0.5, 0.65, -0.5, 0, 0, 0.35, -0.45, 1.15),
    (0.4, 0.35, -1.15, 0.25, 0, 0.35, -0.45, 1.3)]
CALGARY_2015 = [
    (-1.15, 0.5, 0, 0, 0, 0, -0.02, 0.1), (-0.15, 0, 0.25, 0, 0, 0.1, -0.02, 0.02),
    (-0.25, 0, 0.25, 0.25, 0, 0.1, -0.15, 0.2), (-0.65, 0, 0.4, 0.15, 0, 0.15, -0.15, 0.4),
    (-0.5, -0.15, 0, 0.35, 0, 0, -0.02, 0.8), (-0.5, 0, 0.1, 0, 0, 0, -0.15, 0.8),
    (-0.4, 0, 0, -0.5, 0.15, 0, -0.15, 0.8), (-0.15, -0.25, 0.05, -0.4, 0, 0.2, -0.3, 0.5),
    (-0.1, 0, 0, -0.5, 0, 0.25, -0.4, 0.45), (-0.1, -0.3, 0.2, -0.25, 0, 0.1, -0.4, 0.7),
    (-0.5, -0.4, 0.25, 0, 0, 0.35, -0.55, 1.0), (-0.5, -0.5, 0.25, 0, 0.1, 0.25, -0.8, 1.7),
    (-0.65, -0.85, 0.5, 0, 0, 0.25, -0.8, 2.6), (-0.4, -0.5, 0.35, 0, 0.25, 0.35, -0.8, 3.0),
    (0, 0.75, 0.6, 0.5, 0, 0.25, -0.4, 1.6), (0.25, 1.0, 0.5, 0, 0, 0.25, -0.3, 1.1),
    (0.35, 0.1, 0, -0.25, 0, 0.15, -0.4, 1.35), (0.35, 0, -0.1, 0, 0, 0.25, -0.6, 1.35),
    (0.25, 0.25, -0.1, -0.25, 0, 0.25, -0.65, 1.35)]
QUEBEC_2015 = [
    (-1.65, 0, 0.25, 0, 0, 0, -0.02, 0.02), (-0.75, 0, 0.35, 0, 0, 0, -0.02, 0.02),
    (-0.5, 0, 0.45, 0, 0, 0, -0.02, 0.02), (-0.4, 0, 0.45, 0, 0, 0, -0.02, 0.02),
    (-0.4, 0, 0.35, 0, 0, 0, -0.02, 0.02), (-0.4, 0.05, 0.3, 0, 0, 0, -0.02, 0.02),
    (-0.25, 0, 0, 0.1, 0, 0, -0.02, 0.02), (-0.15, 0, -0.1, 0, 0, 0, -0.02, 0.05),
    (-0.25, 0.1, 0, 0, 0, 0, -0.02, 0.02), (-0.25, 0.25, 0, 0, 0.2, 0, -0.02, 0.05),
    (-0.15, 0.15, 0.25, -0.1, 0, 0, -0.05, 0.3), (0.25, 0, 0, -0.3, 0.15, 0, -0.05, 0.6),
    (-0.25, 0.6, 0, -0.15, 0, 0, -0.15, 0.75), (-0.5, 0.7, -0.25, 0, 0, 0.1, -0.1, 0.75),
    (0.4, 1.15, 1.5, -0.25, 0, 0, -0.02, 0.25), (1.0, 1.15, 1.65, 0, 0, 0, -0.05, 0.25),
    (0.6, 0.1, 0.25, -0.25, 0, 0, -0.02, 0.35), (0.5, 0, 0.25, -0.25, 0, 0.1, -0.1, 0.5),
    (0.75, 0, -0.1, -0.25, 0.15, 0, -0.02, 0.55)]
HALIFAX_2015 = [
    (0.75, 0.2, 0, 0, 0, 0, -0.02, 0.05), (0.5, 0, 0.25, 0, 0, 0, -0.02, 0.05),
    (0.45, 0.3, 0, 0, 0, 0, -0.02, 0.02), (0.5, 0, 0.25, 0, 0, 0, -0.02, 0.1),
    (0.2, -0.2, 0, 0.15, 0, 0, -0.02, 0.1), (0, 0, 0.35, 0.3, 0, 0, -0.02, 0.02),
    (-0.25, 0, -0.1, 0.3, 0, 0, -0.02, 0.15), (-0.15, 0, -0.25, 0.35, 0, 0, -0.02, 0.1),
    (0.2, -0.1, -0.25, 0.15, 0, 0, -0.02, 0.15), (0.35, 0, -0.35, 0, 0, 0, -0.02, 0.6),
    (-0.4, 0, 0.35, 0.35, 0, 0.1, -0.3, 0.9), (-0.75, 0.5, 0.35, 0, 0, 0.25, -0.3, 1.9),
    (-1.5, 0, 0.5, 0.6, 0, 0.25, -0.3, 2.85), (-1.35, -1.0, 0.6, 0.6, 0, 0.25, -0.35, 2.55),
    (0.25, 1.15, 1.4, 1.25, 0, 0.25, -0.35, 0.8), (0.65, 4.5, 0.4, 0.75, 0, 0.25, -0.1, 0.55),
    (0.4, 0, -0.25, 0.4, 0, 0.1, -0.05, 1.05), (0.4, 0.4, -0.25, 0, 0, 0, -0.1, 1.8),
    (0.4, 0.3, -0.25, 0.1, 0, 0.1, -0.05, 2.3)]

TORONTO_2020 = [
    (-1.0, 0, -0.35, 0, 0, 0.1, -0.05, 0.02), (-0.65, -0.1, -0.4, 0, 0.1, 0.15, -0.05, 0.02),
    (-0.5, 0.25, -0.5, 0, 0, 0, -0.05, 0.2), (-0.35, 0.2, -0.6, 0, 0, 0, -0.05, 0.3),
    (-0.35, 0.15, -0.6, 0, 0, 0.2, -0.2, 0.45), (-0.25, 0.1, -1.2, 0, 0, 0.1, -0.2, 0.7),
    (-0.15, 0.1, -1.35, -0.15, 0, 0.25, -0.2, 0.55), (-0.25, 0.1, -1.25, -0.15, 0, 0.25, -0.2, 0.45),
    (0.25, 0.1, -1.1, 0, 0, 0, -0.2, 0.65), (0, 0.25, -1.1, 0, 0, 0.1, -0.2, 1.05),
    (-0.1, 0.55, -1.45, 0, 0, 0.1, -0.45, 1.6), (-0.75, 0.9, -1.9, -0.25, 0, 0.35, -0.45, 2.35),
    (-0.85, 0.9, -2.15, -0.25, 0, 0.25, -0.6, 4.3), (-0.1, 0.35, -1.75, -0.25, 0, 0.25, -0.6, 6.1),
    (-0.25, 4.55, -0.75, -0.5, 0, 0.25, -0.3, 2.95), (-0.4, 7.55, -0.85, 0, 0, 0.1, -0.2, 1.2),
    (0.1, 0.65, -1.25, 0, 0, 0.25, -0.3, 1.45), (0.25, 0.75, -1.75, 0, 0, 0.25, -0.45, 1.95),
    (-1.15, 0.75, -2.4, -0.25, 0, 0.35, -0.3, 1.7)]
MONTREAL_2020 = [
    (-0.75, 0.1, -0.2, 0, 0, 0, -0.02, 0.02), (-0.25, 0.1, 0, 0, 0, 0.1, -0.02, 0.05),
    (-0.15, 0.25, 0, -0.1, 0, 0, -0.02, 0.02), (-0.25, 0.1, 0, 0, 0, 0.1, -0.05, 0.1),
    (-0.25, 0.15, -0.2, 0, 0, 0, -0.02, 0.25), (-0.35, 0.2, -0.5, 0, 0, 0, -0.1, 0.25),
    (-0.1, 0.2, -0.9, 0, 0, 0, -0.05, 0.25), (-0.4, 0.1, -0.95, 0, 0, 0.05, -0.1, 0.3),
    (-0.4, 0.25, -0.75, 0, 0, 0, -0.05, 0.55), (-0.25, 0.4, -0.75, 0, 0, 0, -0.2, 0.9),
    (-0.25, 0.75, -0.6, -0.25, 0, 0.1, -0.3, 1.15), (-0.25, 1.1, -0.85, -0.25, 0, 0.1, -0.5, 1.8),
    (-0.15, 1.25, -1.15, -0.25, 0, 0.25, -0.5, 2.3), (0.1, 1.9, -1.0, -0.5, 0, 0.25, -0.3, 2.15),
    (-0.1, 3.15, -0.1, -0.4, 0, 0.25, -0.5, 1.15), (0.25, 3.5, -0.25, 0, 0, 0.1, -0.1, 0.9),
    (-0.1, 0.35, -0.5, 0, 0, 0.15, -0.25, 1.15), (-0.15, 0.65, -0.75, 0, 0, 0.25, -0.35, 1.25),
    (-0.25, 1.65, -1.0, -0.25, 0, 0.25, -0.25, 0.8)]
VANCOUVER_2020 = [
    (-0.85, 0, -0.15, 0, 0, 0.15, -0.1, 0.02), (-0.25, 0.2, 0, -0.3, 0, 0, -0.05, 0.1),
    (0.3, 0, -0.4, -0.1, 0, 0, -0.05, 0.15), (0.25, 0, -0.4, 0, 0, 0, -0.2, 0.25),
    (-0.5, 0.25, -0.5, 0, 0, 0, -0.1, 0.4), (-0.5, 0.25, -0.6, 0, 0, 0, -0.2, 0.5),
    (-0.6, 0.25, -0.9, 0, 0, 0, -0.2, 0.65), (-0.6, 0.25, -0.6, 0, 0, 0.25, -0.45, 0.4),
    (-0.25, 0.3, -0.75, 0, 0, 0.1, -0.2, 0.55), (0, 0.5, -0.6, 0, 0, 0.1, -0.45, 1.15),
    (0.1, 1.0, -0.65, 0, 0, 0.25, -0.45, 1.55), (-0.25, 1.1, -0.75, 0.4, 0, 0.25, -0.6, 2.3),
    (-0.25, 1.15, -0.75, 0.5, 0, 0.35, -0.7, 3.7), (1.0, 1.0, -0.5, 0.75, 0, 0.25, -0.7, 5.1),
    (0.35, 3.9, 0.25, 0, 0, 0.25, -0.45, 2.95), (-0.1, 9.45, -0.25, 0, 0, 0.15, -0.1, 1.0),
    (0.6, 1.15, -0.5, 0, 0, 0.25, -0.2, 1.55), (0.25, 1.5, -0.75, 0, 0, 0.25, -0.35, 1.9),
    (0.35, 0.75, -1.15, 0, 0, 0.35, -0.35, 1.4)]
CALGARY_2020 = [
    (-0.75, 0, 0.25, 0.5, 0, 0, -0.02, 0.2), (-0.25, 0.1, 0, 0.6, 0, 0.15, -0.05, 0.15),
    (-0.5, 0.25, 0, 0.6, 0, 0, -0.02, 0.45), (-0.5, 0.25, 0.5, 0, 0, 0.25, -0.02, 0.45),
    (-0.5, 0.25, 0, 0.5, 0, 0.25, -0.02, 0.6), (-0.25, 0.25, 0.35, 0.15, 0, 0, -0.15, 0.7),
    (-0.25, 0.25, -0.15, 0, 0, 0.25, -0.15, 0.6), (-0.25, 0.15, 0, -0.15, 0, 0.25, -0.15, 0.45),
    (0.25, 0, -0.1, 0.25, 0, 0, -0.3, 0.55), (-0.25, 0.5, 0, 0, 0, 0.1, -0.4, 0.7),
    (-0.5, 0.65, 0.25, 0.5, 0, 0.25, -0.4, 1.1), (-0.5, 1.1, 0.15, 0.75, 0, 0.35, -0.55, 1.6),
    (-0.6, 1.4, 0.25, 1.15, 0, 0.35, -0.55, 2.75), (-0.1, 1.9, 0.35, 1.75, 0, 0.5, -0.6, 3.5),
    (0.1, 2.5, 0.65, 1.25, 0, 0.35, -0.3, 2.1), (0.1, 2.4, 0.15, 0.5, 0, 0.25, -0.15, 1.1),
    (-0.1, 0.6, -0.15, 0.5, 0, 0.1, -0.4, 1.35), (0.25, 0.75, -0.25, 0.65, 0, 0.25, -0.4, 1.6),
    (0.35, 0.5, -0.4, 0.75, 0, 0.35, -0.55, 1.6)]
QUEBEC_2020 = [
    (-0.9, 0.2, 0, 0, 0, 0, -0.02, 0.02), (-0.9, 0, 0.5, 0, 0, 0, -0.02, 0.02),
    (-0.1, 0, 0.3, 0, 0, 0, -0.02, 0.05), (-0.5, 0, 0.45, 0, 0, 0, -0.02, 0.02),
    (-0.4, 0, 0.6, 0, 0, 0, -0.02, 0.02), (-0.5, 0, 0.45, 0, 0, 0, -0.02, 0.02),
    (-0.25, 0.05, 0.2, 0, 0, 0, -0.02, 0.02), (-0.4, 0.1, 0.1, 0, 0, 0.05, -0.1, 0.05),
    (0.15, 0, 0, 0, 0.05, 0.1, -0.02, 0.1), (-0.1, 0.3, 0.1, 0, 0, 0.1, -0.02, 0.3),
    (-0.1, 0.5, 0, -0.1, 0, 0.1, -0.05, 0.6), (0.1, 0.9, 0, 0, 0, 0, -0.15, 1.2),
    (-0.1, 1.35, 0, 0, 0, 0, -0.25, 1.6), (-0.5, 2.15, 0, 0, 0, 0.1, -0.1, 1.25),
    (0.9, 3.1, 1.6, -0.1, 0, 0, -0.02, 0.5), (0.75, 1.9, 1.35, 0, 0, 0, -0.02, 0.5),
    (0.4, 0.4, 0.25, 0, 0, 0, -0.05, 0.85), (0.4, 0.6, 0.25, 0, 0, 0, -0.02, 1.1),
    (1.5, 0.5, 0, 0, 0, 0, -0.05, 0.85)]
HALIFAX_2020 = [
    (0.7, 0, 0, 0.05, 0, 0, -0.02, 0.05), (0.65, 0.05, 0, 0, 0, 0, -0.02, 0.05),
    (0.5, 0, 0.15, 0, 0, 0, -0.02, 0.05), (0.4, 0, 0.2, 0, 0, 0, -0.02, 0.05),
    (-0.2, 0.25, 0, 0.1, 0, 0, -0.02, 0.05), (-0.25, 0.1, -0.15, 0.5, 0, 0, -0.02, 0.1),
    (-0.25, 0.25, -0.5, 0.6, 0, 0, -0.02, 0.1), (-0.25, 0.1, -0.5, 0.7, 0, 0, -0.02, 0.15),
    (0.5, 0, -0.5, 0.5, 0, 0, -0.02, 0.4), (0, 0.15, -0.5, 0.5, 0, 0.1, -0.02, 0.9),
    (-0.35, 0.75, 0, 1.15, 0, 0.1, -0.25, 1.7), (-0.75, 1.0, 0.25, 1.4, 0, 0.25, -0.2, 2.35),
    (-1.25, 0.9, 0.25, 1.4, 0, 0.1, -0.25, 2.85), (-0.65, -1.35, 0.35, 1.25, 0, 0.1, -0.25, 4.2),
    (0.75, 1.0, 1.25, 3.8, 0, 0, -0.2, 3.6), (0.4, 3.9, 0.5, 1.25, 0, 0.1, -0.05, 1.05),
    (0.1, 0.25, -0.4, 0.65, 0, 0, -0.05, 1.7), (0.25, 0.9, -0.4, 0.5, 0, 0, -0.25, 2.45),
    (0.85, 0.65, -0.65, 0.6, 0, 0.1, -0.05, 2.1)]

PANELS = {
    ("2000-2005", "Toronto"): TORONTO_2000, ("2000-2005", "Montréal"): MONTREAL_2000,
    ("2000-2005", "Vancouver"): VANCOUVER_2000, ("2000-2005", "Calgary"): CALGARY_2000,
    ("2000-2005", "Québec"): QUEBEC_2000, ("2000-2005", "Halifax"): HALIFAX_2000,
    ("2005-2010", "Toronto"): TORONTO_2005, ("2005-2010", "Montréal"): MONTREAL_2005,
    ("2005-2010", "Vancouver"): VANCOUVER_2005, ("2005-2010", "Calgary"): CALGARY_2005,
    ("2005-2010", "Québec"): QUEBEC_2005, ("2005-2010", "Halifax"): HALIFAX_2005,
    ("2010-2015", "Toronto"): TORONTO_2010, ("2010-2015", "Montréal"): MONTREAL_2010,
    ("2010-2015", "Vancouver"): VANCOUVER_2010, ("2010-2015", "Calgary"): CALGARY_2010,
    ("2010-2015", "Québec"): QUEBEC_2010, ("2010-2015", "Halifax"): HALIFAX_2010,
    ("2015-2020", "Toronto"): TORONTO_2015, ("2015-2020", "Montréal"): MONTREAL_2015,
    ("2015-2020", "Vancouver"): VANCOUVER_2015, ("2015-2020", "Calgary"): CALGARY_2015,
    ("2015-2020", "Québec"): QUEBEC_2015, ("2015-2020", "Halifax"): HALIFAX_2015,
    ("2020-2025", "Toronto"): TORONTO_2020, ("2020-2025", "Montréal"): MONTREAL_2020,
    ("2020-2025", "Vancouver"): VANCOUVER_2020, ("2020-2025", "Calgary"): CALGARY_2020,
    ("2020-2025", "Québec"): QUEBEC_2020, ("2020-2025", "Halifax"): HALIFAX_2020,
}

rows = []
for (period, city), tbl in PANELS.items():
    for age, vals in zip(AGES, tbl):
        for comp, v in zip(COMPONENTS, vals):
            rows.append((period, city, age, comp, v))
df = pd.DataFrame(rows, columns=["period", "city", "age", "component", "value"])

# ---------------------------------------------------------------- style
BG = "#f8f5f1"
GRID_MAJ = "#c9c6c2"
GRID_MIN = "#e4e1dc"
BORDER = "#b3b3b3"
STRIP = "#5e5e5e"
sns.set_theme(style="white")
plt.rcParams["font.family"] = ["Liberation Serif", "DejaVu Serif"]
plt.rcParams["figure.facecolor"] = BG
plt.rcParams["axes.facecolor"] = BG

W, H = 1007, 1444


def draw_panel(data, **kws):
    ax = plt.gca()
    d = (data.pivot(index="age", columns="component", values="value")
         .reindex(index=AGES, columns=COMPONENTS).fillna(0))
    y = np.arange(len(AGES))[::-1]
    pos_off = np.zeros(len(AGES))
    neg_off = np.zeros(len(AGES))
    for comp, col in zip(COMPONENTS[::-1], COLORS[::-1]):
        v = d[comp].to_numpy()
        p = np.where(v > 0, v, 0.0)
        n = np.where(v < 0, v, 0.0)
        ax.barh(y, p, left=pos_off, height=0.92, color=col, linewidth=0, zorder=2)
        ax.barh(y, n, left=neg_off, height=0.92, color=col, linewidth=0, zorder=2)
        pos_off += p
        neg_off += n


g = sns.FacetGrid(df, row="period", col="city", row_order=PERIODS, col_order=CITIES,
                  sharex=True, sharey=True, height=2.2, aspect=0.58, despine=False)
g.map_dataframe(draw_panel)
g.set_titles(template="")
g.set_axis_labels("", "")

fig = g.figure
fig.set_size_inches(W / 100, H / 100)
fig.set_facecolor(BG)
fig.subplots_adjust(left=151 / W, right=971.5 / W, top=1 - 88 / H, bottom=1 - 1233 / H,
                    wspace=10.5 / 127.5, hspace=10 / 221)

nrow, ncol = g.axes.shape
for i in range(nrow):
    for j in range(ncol):
        ax = g.axes[i, j]
        ax.set_facecolor(BG)
        ax.set_xlim(-4.75, 11.3)
        ax.set_ylim(-0.6, 18.6)
        ax.set_xticks(XTICKS)
        ax.set_xticks([-2.5, 2.5, 7.5], minor=True)
        ax.set_yticks(np.arange(len(AGES)))
        ax.set_axisbelow(True)
        ax.grid(which="major", axis="both", color=GRID_MAJ, lw=1.1, zorder=0)
        ax.grid(which="minor", axis="x", color=GRID_MIN, lw=0.9, zorder=0)
        for s in ax.spines.values():
            s.set_color(BORDER)
            s.set_linewidth(1.3)
        ax.tick_params(which="both", length=0, labelleft=False, labelbottom=False)
        if j == 0:
            ax.set_yticklabels(AGES[::-1])
            ax.tick_params(axis="y", which="major", length=3.4, width=0.9, color=BORDER,
                           labelleft=True, labelsize=12, labelcolor="#4d4d4d", pad=2.9)
        if i == nrow - 1:
            ax.set_xticklabels(XTICK_LABELS)
            ax.tick_params(axis="x", which="major", length=3.4, width=0.9, color=BORDER,
                           labelbottom=True, labelsize=12, labelcolor="#4d4d4d", pad=2.0)
        if i == 0:
            ax.add_patch(Rectangle((0, 1 + 1 / 221), 1, 35 / 221, transform=ax.transAxes,
                                   clip_on=False, facecolor=STRIP, edgecolor="none"))
            ax.text(0.5, 1 + 18.5 / 221, CITIES[j], transform=ax.transAxes, ha="center",
                    va="center", color="#f2f2f2", fontsize=12)
        if j == ncol - 1:
            ax.add_patch(Rectangle((1 + 0.5 / 127.5, 0), 33.5 / 127.5, 1, transform=ax.transAxes,
                                   clip_on=False, facecolor=STRIP, edgecolor="none"))
            ax.text(1 + 17.5 / 127.5, 0.5, PERIODS[i], transform=ax.transAxes, ha="center",
                    va="center", rotation=-90, color="#f2f2f2", fontsize=12)

fig.text(512 / W, 1 - 28 / H, "Components of population growth", ha="center", va="center",
         fontsize=19.5, color="black")
fig.text(561 / W, 1 - 1273 / H, "Mean annual share of population", ha="center", va="center",
         fontsize=16.5, color="black")
fig.text(1005 / W, 1 - 1425 / H, "StatCan Tables 17-10-0136 and 17-10-0135", ha="right",
         va="center", fontsize=12, color="black")

handles = [Patch(facecolor=c, edgecolor="none", label=l) for l, c in zip(COMPONENTS, COLORS)]
fig.legend(handles=handles, ncol=4, loc="upper left", bbox_to_anchor=(138 / W, 1 - 1321 / H),
           frameon=False, fontsize=12, handlelength=1.15, handleheight=2.55, handletextpad=1.4,
           columnspacing=0.78, labelspacing=0.9, borderpad=0, borderaxespad=0)

fig.patches.append(Rectangle((7 / W, 7 / H), 1 - 14 / W, 1 - 14 / H, transform=fig.transFigure,
                             fill=False, edgecolor="white", linewidth=1.0))

fig.savefig("out.png", dpi=100, facecolor=BG)
